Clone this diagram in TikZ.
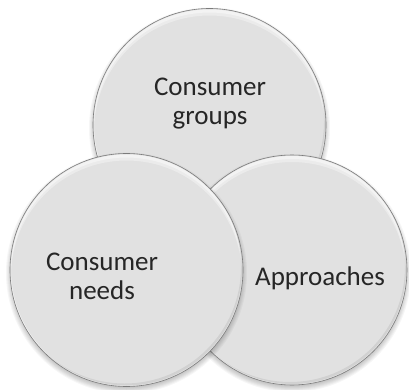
\documentclass[tikz,border=0pt]{standalone}
\usepackage{fontspec}
\setmainfont{Carlito}
\usetikzlibrary{calc}

\definecolor{bodygray}{HTML}{E1E1E1}
\definecolor{rimmid}{HTML}{C6C6C6}
\definecolor{rimdark}{HTML}{8A8A8A}
\definecolor{edgeline}{HTML}{7C7C7C}
\definecolor{labeltext}{HTML}{262626}

% flat body with a darker rim towards the edge
\pgfdeclareradialshading{rim}{\pgfpoint{0bp}{0bp}}{%
  color(0bp)=(bodygray); color(45bp)=(bodygray);
  color(48.6bp)=(rimmid); color(50bp)=(rimdark)}

% bevelled disc with a soft drop shadow: #1 centre, #2 radius (pt)
\newcommand\bevelbubble[2]{%
  \foreach \k in {0,...,6}{%
    \fill[black,opacity=0.035] ($(#1)+(0,3)$) circle[radius={#2+4-\k}];
  }
  \shade[shading=rim] (#1) circle[radius=#2];
  \begin{scope}
    \clip (#1) circle[radius=#2];
    % light catching the upper rim
    \fill[white,opacity=0.45,even odd rule]
      (#1) circle[radius={#2-1}] ($(#1)+(0,3)$) circle[radius={#2-1}];
    \fill[white,opacity=0.35,even odd rule]
      (#1) circle[radius={#2-1}] ($(#1)+(0,6)$) circle[radius={#2-1}];
    % darker lower right rim
    \fill[black,opacity=0.07,even odd rule]
      (#1) circle[radius=#2] ($(#1)+(-2,-3)$) circle[radius=#2];
  \end{scope}
  \draw[edgeline,line width=0.6pt] (#1) circle[radius=#2];
}

\tikzset{
  bubblelabel/.style={align=center,text=labeltext,inner sep=0pt,
    font=\fontsize{27}{29}\selectfont}
}

\begin{document}
\begin{tikzpicture}[x=1pt,y=-1pt]
  \useasboundingbox (0,0) rectangle (409,390);
  \fill[white] (0,0) rectangle (409,390);

  \coordinate (cgroups) at (209.5,125);
  \coordinate (capproach) at (292,270);
  \coordinate (cneeds) at (126.5,270);

  \bevelbubble{cgroups}{116.5}
  \bevelbubble{capproach}{115}
  \bevelbubble{cneeds}{116.5}

  \node[bubblelabel] (groups) at (210,104) {Consumer\\groups};
  \node[bubblelabel] (approaches) at (320,278) {Approaches};
  \node[bubblelabel] (needs) at (102,276) {Consumer\\needs};
\end{tikzpicture}
\end{document}
